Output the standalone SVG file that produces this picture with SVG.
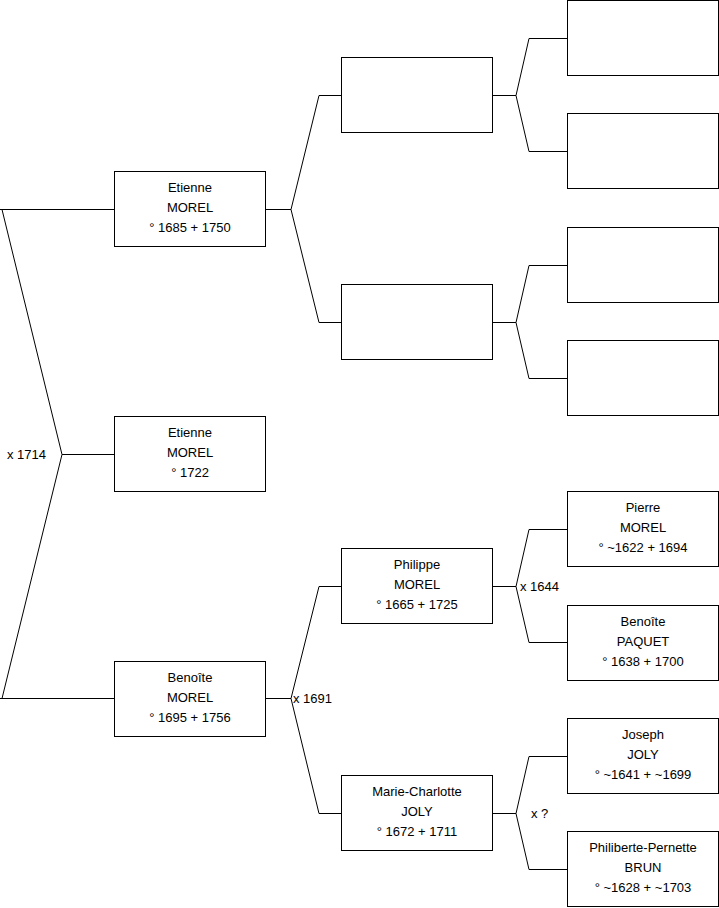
<svg xmlns="http://www.w3.org/2000/svg" width="719" height="908" viewBox="0 0 719 908">
<style>
rect{fill:#fff;stroke:#000;stroke-width:1}
path{fill:none;stroke:#000;stroke-width:1}
text{font-family:"Liberation Sans",Arial,sans-serif;font-size:13px;fill:#000}
.c{text-anchor:middle}
</style>
<rect x="0" y="0" width="719" height="908" style="stroke:none"/>
<g id="connectors">
<path d="M0,209.5H114 M2,209.5L62,454.5L2,698.5 M0,698.5H114 M62,454.5H114"/>
<path d="M265,209.5H291 M291,209.5L319,95.5H341 M291,209.5L319,322.5H341"/>
<path d="M265,698.5H291 M291,698.5L319,586.5H341 M291,698.5L319,813.5H341"/>
<path d="M492,95.5H516 M516,95.5L529,38.5H567 M516,95.5L529,151.5H567"/>
<path d="M492,322.5H516 M516,322.5L529,265.5H567 M516,322.5L529,378.5H567"/>
<path d="M492,586.5H516 M516,586.5L529,529.5H567 M516,586.5L529,642.5H567"/>
<path d="M492,813.5H516 M516,813.5L529,756.5H567 M516,813.5L529,869.5H567"/>
<text x="7" y="458.5">x 1714</text>
<text x="293" y="702.5">x 1691</text>
<text x="520" y="590.5">x 1644</text>
<text x="531" y="817.5">x ?</text>
</g>
<g id="n1"><rect x="114.5" y="171.5" width="151" height="75"/><text class="c" x="190" y="191.5">Etienne</text><text class="c" x="190" y="211.5">MOREL</text><text class="c" x="190" y="231.5">° 1685 + 1750</text></g>
<g id="n0"><rect x="114.5" y="416.5" width="151" height="75"/><text class="c" x="190" y="436.5">Etienne</text><text class="c" x="190" y="456.5">MOREL</text><text class="c" x="190" y="476.5">° 1722</text></g>
<g id="n2"><rect x="114.5" y="661.5" width="151" height="75"/><text class="c" x="190" y="681.5">Benoîte</text><text class="c" x="190" y="701.5">MOREL</text><text class="c" x="190" y="721.5">° 1695 + 1756</text></g>
<g id="n3"><rect x="341.5" y="57.5" width="151" height="75"/></g>
<g id="n4"><rect x="341.5" y="284.5" width="151" height="75"/></g>
<g id="n5"><rect x="341.5" y="548.5" width="151" height="75"/><text class="c" x="417" y="568.5">Philippe</text><text class="c" x="417" y="588.5">MOREL</text><text class="c" x="417" y="608.5">° 1665 + 1725</text></g>
<g id="n6"><rect x="341.5" y="775.5" width="151" height="75"/><text class="c" x="417" y="795.5">Marie-Charlotte</text><text class="c" x="417" y="815.5">JOLY</text><text class="c" x="417" y="835.5">° 1672 + 1711</text></g>
<g id="n7"><rect x="567.5" y="0.5" width="151" height="75"/></g>
<g id="n8"><rect x="567.5" y="113.5" width="151" height="75"/></g>
<g id="n9"><rect x="567.5" y="227.5" width="151" height="75"/></g>
<g id="n10"><rect x="567.5" y="340.5" width="151" height="75"/></g>
<g id="n11"><rect x="567.5" y="491.5" width="151" height="75"/><text class="c" x="643" y="511.5">Pierre</text><text class="c" x="643" y="531.5">MOREL</text><text class="c" x="643" y="551.5">° ~1622 + 1694</text></g>
<g id="n12"><rect x="567.5" y="605.5" width="151" height="75"/><text class="c" x="643" y="625.5">Benoîte</text><text class="c" x="643" y="645.5">PAQUET</text><text class="c" x="643" y="665.5">° 1638 + 1700</text></g>
<g id="n13"><rect x="567.5" y="718.5" width="151" height="75"/><text class="c" x="643" y="738.5">Joseph</text><text class="c" x="643" y="758.5">JOLY</text><text class="c" x="643" y="778.5">° ~1641 + ~1699</text></g>
<g id="n14"><rect x="567.5" y="831.5" width="151" height="75"/><text class="c" x="643" y="851.5">Philiberte-Pernette</text><text class="c" x="643" y="871.5">BRUN</text><text class="c" x="643" y="891.5">° ~1628 + ~1703</text></g>
</svg>
